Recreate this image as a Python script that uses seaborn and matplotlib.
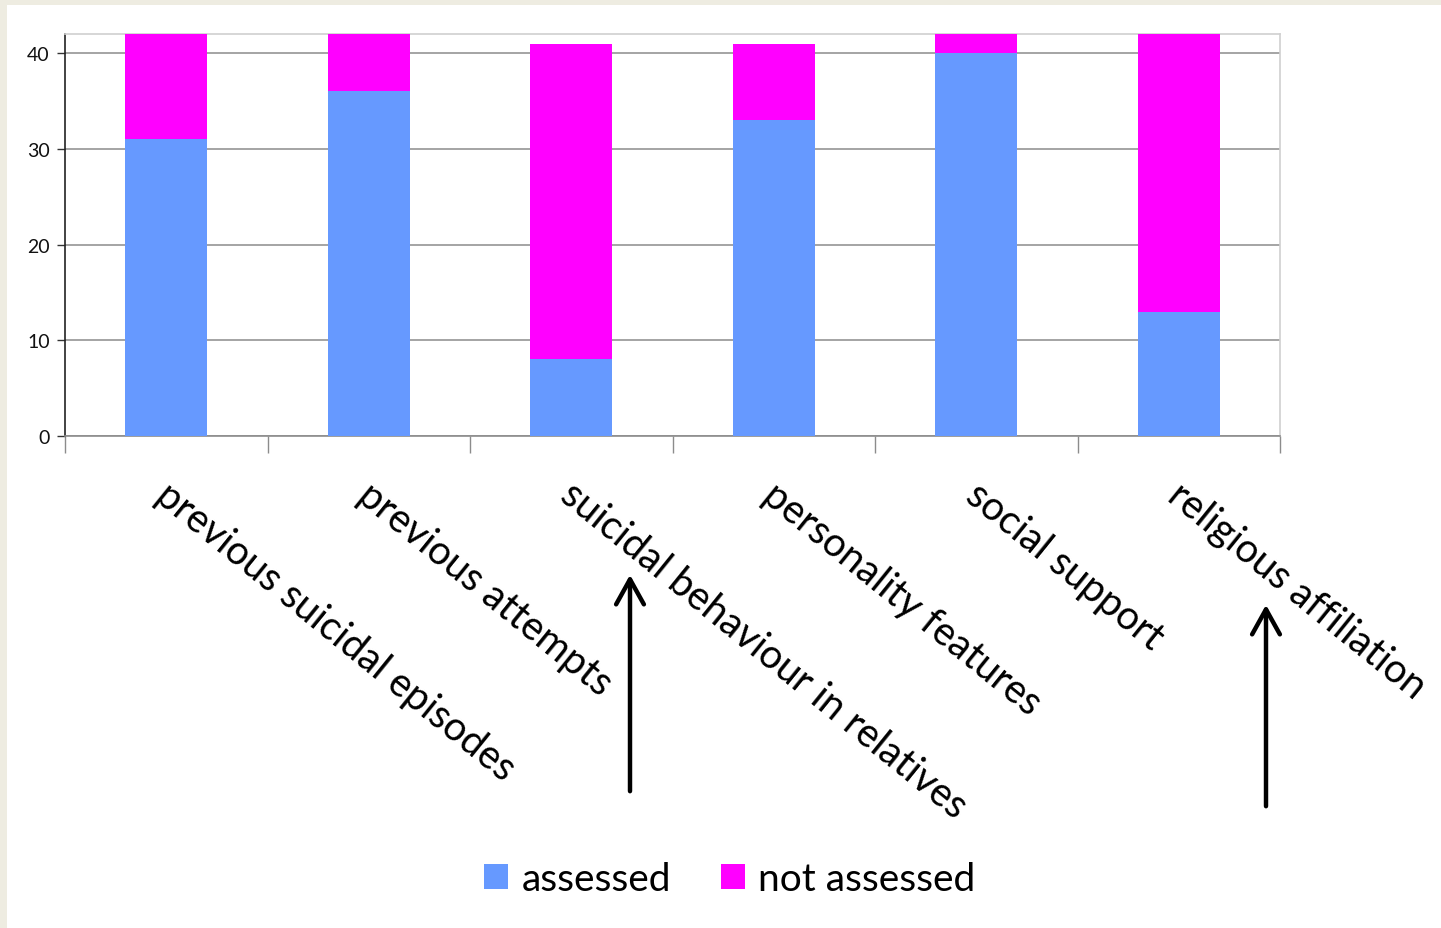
import matplotlib
matplotlib.use("Agg")
import matplotlib.pyplot as plt
import matplotlib.transforms as mtransforms
from matplotlib.patches import Rectangle, Patch, FancyArrowPatch
import seaborn as sns
import pandas as pd
import numpy as np

categories = ["previous suicidal episodes", "previous attempts",
              "suicidal behaviour in relatives", "personality features",
              "social support", "religious affiliation"]
assessed = [31, 36, 8, 33, 40, 13]
not_assessed = [11, 6, 33, 8, 2, 29]
yticks = [0, 10, 20, 30, 40]
arrow_categories = ["suicidal behaviour in relatives", "religious affiliation"]

BLUE = "#6699FF"
MAGENTA = "#FF00FF"
FONT = ["Lato", "DejaVu Sans"]

sns.set_theme(style="white")
plt.rcParams["font.family"] = FONT
plt.rcParams["text.color"] = "black"

df = pd.DataFrame({"category": categories,
                   "assessed": assessed,
                   "not_assessed": not_assessed})
df["total"] = df["assessed"] + df["not_assessed"]

fig = plt.figure(figsize=(14.41, 9.29), dpi=100)
fig.patch.set_facecolor("#EEECE1")
fig.patches.append(Rectangle((7 / 1441, 0), 1 - 7 / 1441, 1 - 6 / 929,
                             transform=fig.transFigure, facecolor="white",
                             edgecolor="none", zorder=-5))

ax = fig.add_axes([65 / 1441, 1 - 437 / 929, (1280 - 65) / 1441, (437 - 35) / 929])
ax.set_facecolor("white")

sns.barplot(data=df, x="category", y="total", color=MAGENTA, width=0.405,
            saturation=1, ax=ax, zorder=3, linewidth=0)
sns.barplot(data=df, x="category", y="assessed", color=BLUE, width=0.405,
            saturation=1, ax=ax, zorder=3, linewidth=0)

ax.set_xlim(-0.5, len(categories) - 0.5)
ax.set_ylim(0, 42)
ax.set_xlabel("")
ax.set_ylabel("")

ax.set_yticks(yticks)
ax.yaxis.grid(True, color="#8C8C8C", linewidth=1.1, zorder=1)
ax.set_axisbelow(True)
ax.tick_params(axis="y", which="major", direction="out", length=6, width=1,
               color="#333333", labelsize=14, labelcolor="#111111", pad=5, left=True)

ax.set_xticks(range(len(categories)))
ax.set_xticklabels(categories, rotation=-39, ha="left", va="top",
                   rotation_mode="anchor", fontsize=28.5, color="black")
ax.tick_params(axis="x", which="major", length=0, pad=28)
ax.set_xticks(np.arange(-0.5, len(categories), 1.0), minor=True)
ax.tick_params(axis="x", which="minor", direction="out", length=12, width=1,
               color="#8C8C8C", bottom=True)
offset = mtransforms.ScaledTranslation(6 / 100, 0, fig.dpi_scale_trans)
for lbl in ax.get_xticklabels():
    lbl.set_transform(lbl.get_transform() + offset)

for side in ["top", "right"]:
    ax.spines[side].set_visible(True)
    ax.spines[side].set_color("#D0D0D0")
    ax.spines[side].set_linewidth(1.2)
ax.spines["left"].set_color("#222222")
ax.spines["left"].set_linewidth(1.2)
ax.spines["bottom"].set_color("#8C8C8C")
ax.spines["bottom"].set_linewidth(1.2)

# arrows pointing at labels
arrow_px = {"suicidal behaviour in relatives": (630, 795, 573),
            "religious affiliation": (1266, 810, 603)}
for cat in arrow_categories:
    x, y0, y1 = arrow_px[cat]
    fig.add_artist(FancyArrowPatch(
        (x / 1441, 1 - y0 / 929), (x / 1441, 1 - y1 / 929),
        transform=fig.transFigure, arrowstyle="->,head_length=0.9,head_width=0.5",
        mutation_scale=20, linewidth=3.2, color="black"))

handles = [Patch(facecolor=BLUE, edgecolor="none", label="assessed"),
           Patch(facecolor=MAGENTA, edgecolor="none", label="not assessed")]
leg = fig.legend(handles=handles, loc="center", bbox_to_anchor=(730 / 1441, 1 - 880 / 929),
                 ncol=2, frameon=False, fontsize=28, handlelength=0.6, handleheight=0.6,
                 handletextpad=0.35, columnspacing=1.3)
for t in leg.get_texts():
    t.set_color("black")

fig.savefig("out.png", dpi=100, facecolor=fig.get_facecolor())
